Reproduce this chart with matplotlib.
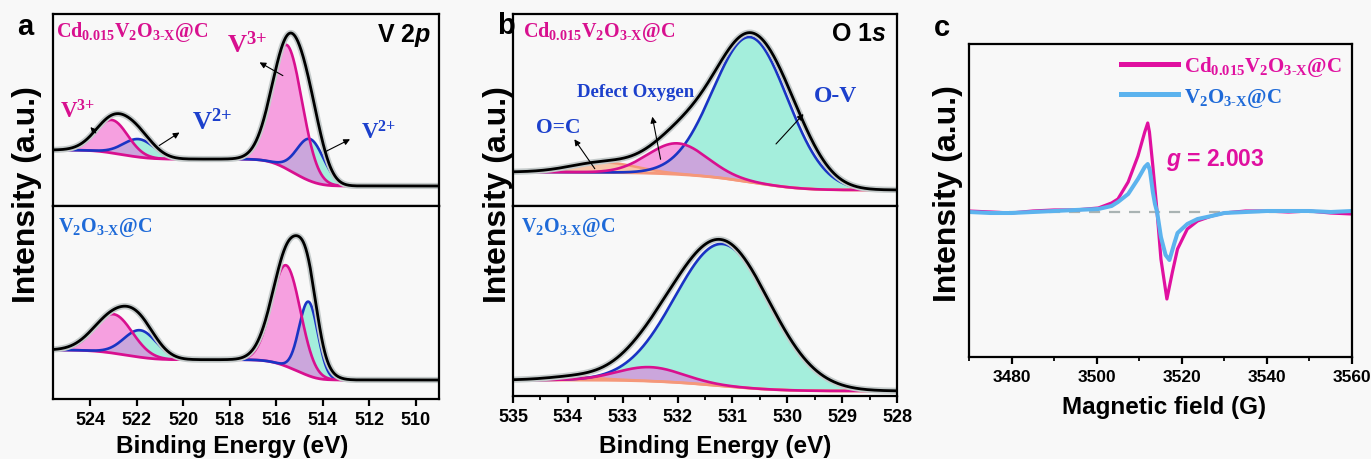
import numpy as np
import matplotlib.pyplot as plt
from matplotlib.font_manager import FontProperties

plt.rcParams['font.family'] = ['Liberation Sans', 'DejaVu Sans']
plt.rcParams['font.weight'] = 'bold'
plt.rcParams['mathtext.fontset'] = 'custom'
plt.rcParams['mathtext.rm'] = 'Liberation Serif:bold'
plt.rcParams['mathtext.bf'] = 'Liberation Serif:bold'
plt.rcParams['mathtext.it'] = 'Liberation Sans:italic:bold'
plt.rcParams['mathtext.default'] = 'rm'

# ---- data ----
# fitted XPS components: (centre eV, height above background, fwhm eV)
v2p_range = (525.6, 509.0)
v2p_ticks = [524, 522, 520, 518, 516, 514, 512, 510]
cdv_v3 = [(523.06, 33, 1.6), (515.54, 124, 1.55)]
cdv_v2 = [(521.9, 18, 1.6), (514.53, 42, 1.37)]
cdv_v2p_env = [(523.0, 34, 1.8), (521.9, 18, 1.6), (515.45, 128, 1.7), (514.5, 38, 1.3)]
cdv_v2p_bg = (20, 56)  # background level at low / high binding energy end
vo_v3 = [(522.99, 39, 1.9), (515.57, 101, 1.45)]
vo_v2 = [(521.84, 27, 1.66), (514.61, 74, 0.95)]
vo_v2p_env = [(523.0, 36, 2.1), (521.85, 27, 1.7), (515.35, 125, 1.75), (514.6, 40, 0.9)]
vo_v2p_bg = (19, 49)

o1s_range = (535, 528)
o1s_ticks = [535, 534, 533, 532, 531, 530, 529, 528]
cdv_ov = [(530.67, 145, 1.6)]
cdv_defect = [(532.0, 31, 1.27)]
cdv_oc = [(533.35, 10, 1.4)]
cdv_o1s_env = [(533.35, 10, 1.4), (532.0, 31, 1.27), (530.67, 145, 1.6), (529.85, 14, 1.1)]
cdv_o1s_bg = (16, 34)
vo_ov = [(531.18, 142, 2.03)]
vo_defect = [(532.5, 14, 1.4)]
vo_oc = [(533.9, 3, 1.2)]
vo_o1s_env = [(533.9, 3, 1.2), (532.5, 14, 1.4), (531.2, 145, 2.05)]
vo_o1s_bg = (5, 16)

# EPR spectra
field_cdv = [3470, 3475, 3480, 3485, 3490, 3495, 3500.4, 3503.5, 3505.0, 3507.4, 3509.7, 3511.3,
             3512.0, 3512.4, 3513.2, 3513.7, 3514.2, 3515.1, 3516.5, 3517.8, 3519.0, 3521.3,
             3523.7, 3527, 3530, 3535, 3540, 3545, 3550, 3555, 3560]
epr_cdv = [1, 0, -1, 1, 2, 2, 4, 9, 13, 30, 56, 80, 89, 80, 46, 23, 0, -47, -87, -60, -37, -17,
           -9, -4, -1, 1, 1, 0, 1, -1, -2]
field_vo = [3470, 3475, 3480, 3485, 3490, 3495, 3500.4, 3503.5, 3505.0, 3507.4, 3509.7, 3511.3,
            3512.0, 3512.5, 3513.2, 3513.7, 3514.2, 3515.1, 3516.2, 3517.1, 3518.2, 3519.0,
            3521.3, 3523.7, 3527, 3530, 3535, 3540, 3545, 3550, 3555, 3560]
epr_vo = [0, -1, -1, 0, 1, 2, 3, 6, 10, 18, 33, 45, 48, 42, 20, 8, 0, -25, -43, -48, -32, -21,
          -12, -7, -4, -1, 0, 1, 1, 1, 0, 1]
epr_ticks = [3480, 3500, 3520, 3540, 3560]

MAG = '#d8108f'
BLUE = '#1a34c4'
SKY = '#5cb3ee'
SALMON = '#f5987a'
PINK_F = '#f6a0e0'
CYAN_F = '#a4eedc'
PURP_F = '#cba6dc'
SALM_F = '#f8c6aa'
TXT_BLUE = '#1c40cc'
SAMPLE_BLUE = '#1e6ad8'
BG = '#f8f8f8'

W, H = 1371, 460
fig = plt.figure(figsize=(W / 100, H / 100), dpi=100, facecolor=BG)


def px_axes(left, top, right, bottom):
    ax = fig.add_axes([left / W, 1 - bottom / H, (right - left) / W, (bottom - top) / H])
    ax.set_facecolor(BG)
    for s in ax.spines.values():
        s.set_linewidth(1.6)
    ax.set_yticks([])
    return ax


def ptxt(x, y, s, **kw):
    fig.text(x / W, 1 - y / H, s, **kw)


def gauss_sum(e, peaks):
    out = np.zeros_like(e)
    for c, h, w in peaks:
        s = w / 2.3548
        out += h * np.exp(-(e - c) ** 2 / (2 * s * s))
    return out


def xps(ax, erange, env_peaks, bg_ends, pink_peaks, cyan_peaks, oc_peaks=None, bg_color=MAG, top=192):
    e = np.linspace(min(erange), max(erange), 1500)
    env = gauss_sum(e, env_peaks)
    cum = np.cumsum(env)
    bg = bg_ends[0] + (bg_ends[1] - bg_ends[0]) * cum / cum[-1]  # shirley-type step
    pink = bg + gauss_sum(e, pink_peaks)
    cyan = bg + gauss_sum(e, cyan_peaks)
    ax.fill_between(e, bg, cyan, color=CYAN_F, lw=0)
    ax.fill_between(e, bg, pink, color=PINK_F, lw=0)
    ax.fill_between(e, bg, np.minimum(pink, cyan), color=PURP_F, lw=0)
    if oc_peaks:
        oc = bg + gauss_sum(e, oc_peaks)
        ax.fill_between(e, bg, oc, color=SALM_F, lw=0)
        ax.plot(e, oc, color=SALMON, lw=1.8)
    ax.plot(e, bg, color=bg_color, lw=2)
    ax.plot(e, cyan, color=BLUE, lw=1.9)
    ax.plot(e, pink, color=MAG, lw=1.9)
    ax.plot(e, bg + env, color='#c5cbcb', lw=4.5)
    ax.plot(e, bg + env, color='k', lw=2)
    ax.set_xlim(erange)
    ax.set_ylim(0, top)


def arrow(ax, tail, head):
    ax.annotate('', xy=head, xytext=tail,
                arrowprops=dict(arrowstyle='-|>', color='k', lw=0.8, mutation_scale=9))


sample_cdv = r'Cd$_{0.015}$V$_2$O$_{3\text{-}X}$@C'
sample_vo = r'V$_2$O$_{3\text{-}X}$@C'
v3_lbl = r'V$^{\text{3+}}$'
v2_lbl = r'V$^{\text{2+}}$'
serif = dict(family='Liberation Serif', weight='bold')

# ---- panel a ----
a1 = px_axes(53, 15, 439, 207)
a2 = px_axes(53, 207, 439, 400)
xps(a1, v2p_range, cdv_v2p_env, cdv_v2p_bg, cdv_v3, cdv_v2, top=192)
xps(a2, v2p_range, vo_v2p_env, vo_v2p_bg, vo_v3, vo_v2, top=193)
a1.tick_params(axis='x', bottom=False, labelbottom=False)
a2.set_xticks(v2p_ticks)
a1.text(0.008, 0.975, sample_cdv, transform=a1.transAxes, color=MAG, fontsize=14.5, va='top', **serif)
a2.text(0.012, 0.955, sample_vo, transform=a2.transAxes, color=SAMPLE_BLUE, fontsize=14.5, va='top', **serif)
a1.text(0.98, 0.965, r'V 2$\mathit{p}$', transform=a1.transAxes, fontsize=18, ha='right', va='top')
a1.text(524.55, 95, v3_lbl, color=MAG, fontsize=16.5, ha='center', va='center', **serif)
a1.text(518.76, 85, v2_lbl, color=TXT_BLUE, fontsize=19, ha='center', va='center', **serif)
a1.text(517.25, 162, v3_lbl, color=MAG, fontsize=19, ha='center', va='center', **serif)
a1.text(511.6, 74, v2_lbl, color=TXT_BLUE, fontsize=16.5, ha='center', va='center', **serif)
arrow(a1, (523.68, 71), (524.07, 81))
arrow(a1, (521.13, 59), (520.06, 75))
arrow(a1, (515.61, 129), (516.82, 145))
arrow(a1, (514.0, 53), (512.72, 68))

# ---- panel b ----
b1 = px_axes(513, 15, 897, 207)
b2 = px_axes(513, 207, 897, 397)
xps(b1, o1s_range, cdv_o1s_env, cdv_o1s_bg, cdv_defect, cdv_ov, cdv_oc, bg_color=SALMON, top=192)
xps(b2, o1s_range, vo_o1s_env, vo_o1s_bg, vo_defect, vo_ov, vo_oc, bg_color=SALMON, top=190)
b1.tick_params(axis='x', bottom=False, labelbottom=False)
b2.set_xticks(o1s_ticks)
b2.set_xticks(np.arange(528.5, 535, 1.0), minor=True)
b1.text(0.026, 0.975, sample_cdv, transform=b1.transAxes, color=MAG, fontsize=14.5, va='top', **serif)
b2.text(0.022, 0.955, sample_vo, transform=b2.transAxes, color=SAMPLE_BLUE, fontsize=14.5, va='top', **serif)
b1.text(0.972, 0.965, r'O 1$\mathit{s}$', transform=b1.transAxes, fontsize=18, ha='right', va='top')
b1.text(532.76, 114, 'Defect Oxygen', color=TXT_BLUE, fontsize=13.5, ha='center', va='center', **serif)
b1.text(534.17, 79, 'O=C', color=TXT_BLUE, fontsize=15.5, ha='center', va='center', **serif)
b1.text(529.12, 110, 'O-V', color=TXT_BLUE, fontsize=17, ha='center', va='center', **serif)
arrow(b1, (532.30, 44), (532.47, 92))
arrow(b1, (533.48, 35), (533.91, 69))
arrow(b1, (530.24, 60), (529.67, 94))

# ---- panel c ----
c = px_axes(969, 45, 1352, 358)
c.axhline(0, color='#a9b3b3', lw=1.6, ls=(0, (5, 4)))
c.plot(field_cdv, epr_cdv, color='#e010a0', lw=2.3, label=sample_cdv)
c.plot(field_vo, epr_vo, color=SKY, lw=2.9, label=sample_vo)
c.set_xlim(3470, 3560)
c.set_ylim(-145, 168)
c.set_xticks(epr_ticks)
c.set_xticks(np.arange(3470, 3561, 20), minor=True)
leg = c.legend(loc='upper right', frameon=False, handlelength=2.7, handletextpad=0.3,
               borderaxespad=0.1, labelspacing=0.35, labelcolor=['#e010a0', SAMPLE_BLUE],
               prop=FontProperties(family='Liberation Serif', weight='bold', size=15))
for ln in leg.get_lines():
    ln.set_linewidth(3.6)
c.text(3516.2, 53, r'$\mathit{g}$ = 2.003', color='#e010a0', fontsize=16.5, ha='left', va='center')

for ax in (a2, b2, c):
    ax.tick_params(axis='x', which='major', direction='out', length=5, width=1.6, labelsize=13, pad=4)
    ax.tick_params(axis='x', which='minor', direction='out', length=3, width=1.3)
c.tick_params(axis='x', which='major', labelsize=12.5)

# ---- figure labels ----
ylab = dict(rotation=90, ha='center', va='center', fontsize=23)
ptxt(27, 195, 'Intensity (a.u.)', **ylab)
ptxt(498, 195, 'Intensity (a.u.)', **ylab)
ptxt(948, 194, 'Intensity (a.u.)', **ylab)
xlab = dict(ha='center', va='center', fontsize=17.5)
ptxt(232, 447, 'Binding Energy (eV)', **xlab)
ptxt(715, 447, 'Binding Energy (eV)', **xlab)
ptxt(1164, 408, 'Magnetic field (G)', **xlab)
ptxt(25, 27, 'a', fontsize=21, ha='center', va='center')
ptxt(506, 26, 'b', fontsize=21, ha='center', va='center')
ptxt(942, 28, 'c', fontsize=21, ha='center', va='center')

fig.savefig('out.png', dpi=100, facecolor=BG)
